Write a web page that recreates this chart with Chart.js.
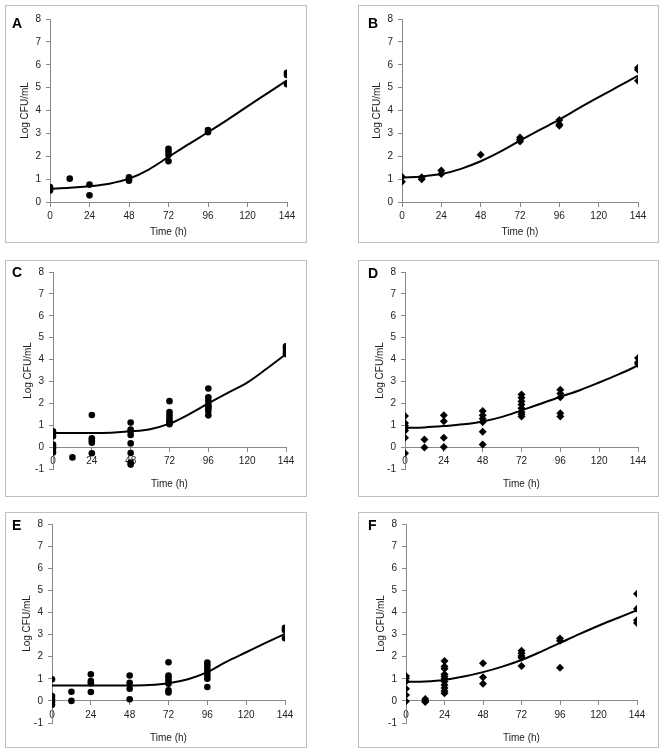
<!DOCTYPE html>
<html>
<head>
<meta charset="utf-8">
<script src="https://cdn.jsdelivr.net/npm/chart.js@4.4.1/dist/chart.umd.min.js"></script>
<style>
  body { margin: 0; background: #fff; width: 666px; height: 753px; position: relative; overflow: hidden; font-family: "Liberation Sans", Arial, sans-serif; }
  .panel { position: absolute; border: 1px solid #bfbfbf; box-sizing: border-box; background: #fff; }
  .panel canvas { position: absolute; left: 0; top: 0; }
  .tag { position: absolute; font-size: 14px; font-weight: bold; line-height: 1; color: #000; }
</style>
</head>
<body>
<script>
// sampling times of the fitted curves (h)
const curveTimes = [0, 12, 24, 36, 48, 60, 72, 84, 96, 108, 120, 132, 144];
// sampling times of the observations (h)
const obsTimes = [0, 12, 24, 48, 72, 96, 144];

// fitted curves, log CFU/mL
const curveA = [0.58, 0.62, 0.69, 0.8, 1.02, 1.42, 1.97, 2.52, 3.05, 3.6, 4.18, 4.75, 5.32];
const curveB = [1.07, 1.12, 1.22, 1.45, 1.78, 2.2, 2.68, 3.15, 3.6, 4.1, 4.58, 5.05, 5.52];
const curveC = [0.64, 0.64, 0.64, 0.66, 0.72, 0.82, 1.07, 1.5, 2.0, 2.48, 2.95, 3.58, 4.25];
const curveD = [0.88, 0.9, 0.96, 1.04, 1.17, 1.38, 1.68, 1.98, 2.3, 2.6, 2.95, 3.32, 3.73];
const curveE = [0.7, 0.7, 0.7, 0.7, 0.7, 0.72, 0.8, 0.98, 1.3, 1.78, 2.2, 2.62, 3.03];
const curveF = [0.86, 0.88, 0.95, 1.1, 1.3, 1.55, 1.85, 2.22, 2.62, 3.02, 3.4, 3.75, 4.1];

// observations, one list per entry of obsTimes
const obsA = [[0.65, 0.5], [1.02], [0.76, 0.29], [1.08, 1.0, 0.93], [2.33, 2.2, 2.05, 1.78], [3.15, 3.05], [5.65, 5.55, 5.15]];
const obsB = [[1.1, 0.88], [1.08, 1.0], [1.38, 1.22], [2.07], [2.82, 2.72, 2.65], [3.58, 3.4, 3.33], [5.87, 5.78, 5.3]];
const obsC = [[0.72, 0.5, 0.12, 0.02, -0.08, -0.25], [-0.47], [1.47, 0.4, 0.3, 0.2, -0.28],
              [1.12, 0.8, 0.72, 0.55, 0.17, -0.27, -0.7, -0.8], [2.1, 1.6, 1.45, 1.3, 1.2, 1.12, 1.05],
              [2.68, 2.28, 2.12, 1.95, 1.85, 1.78, 1.65, 1.45], [4.6, 4.5, 4.35, 4.25]];
const obsD = [[1.42, 1.1, 0.98, 0.85, 0.75, 0.43, -0.28], [0.35, -0.02], [1.45, 1.18, 0.43, 0.0],
              [1.65, 1.45, 1.3, 1.15, 0.7, 0.12], [2.4, 2.25, 2.1, 1.95, 1.78, 1.6, 1.5, 1.4],
              [2.62, 2.45, 2.28, 1.55, 1.4], [4.07, 3.88, 3.8]];
const obsE = [[0.98, 0.22, 0.08, -0.05, -0.18], [0.41, 0.0], [1.2, 0.9, 0.8, 0.4], [1.15, 0.82, 0.55, 0.07],
              [1.75, 1.15, 1.05, 0.92, 0.78, 0.48, 0.38], [1.73, 1.6, 1.45, 1.3, 1.15, 1.0, 0.63], [3.3, 3.2, 2.83]];
const obsF = [[1.12, 1.02, 0.88, 0.55, 0.27, -0.02], [0.08, 0.0, -0.05],
              [1.8, 1.55, 1.45, 1.2, 1.1, 1.0, 0.88, 0.72, 0.58, 0.45, 0.35], [1.7, 1.07, 0.78],
              [2.27, 2.15, 2.03, 1.95, 1.58], [2.82, 2.72, 1.5], [4.84, 4.17, 3.65, 3.52]];

const xTitle = 'Time (h)';
const yTitle = 'Log CFU/mL';

// page layout: frame box and plot area (x0, y0, x1, y1)
const panels = [
  { tag: 'A', frame: [5, 5, 302, 238],   plot: [50, 19, 287, 202],   yMin: 0,  marker: 'circle',  curve: curveA, obs: obsA, tagPos: [12, 16] },
  { tag: 'B', frame: [358, 5, 301, 238], plot: [402, 19, 638, 202],  yMin: 0,  marker: 'rectRot', curve: curveB, obs: obsB, tagPos: [368, 16] },
  { tag: 'C', frame: [5, 260, 302, 237], plot: [53, 271, 286, 469],  yMin: -1, marker: 'circle',  curve: curveC, obs: obsC, tagPos: [12, 265] },
  { tag: 'D', frame: [358, 260, 301, 237], plot: [405, 271, 638, 469], yMin: -1, marker: 'rectRot', curve: curveD, obs: obsD, tagPos: [368, 266] },
  { tag: 'E', frame: [5, 512, 302, 236], plot: [52, 524, 285, 723],  yMin: -1, marker: 'circle',  curve: curveE, obs: obsE, tagPos: [12, 518] },
  { tag: 'F', frame: [358, 512, 301, 236], plot: [406, 524, 637, 723], yMin: -1, marker: 'rectRot', curve: curveF, obs: obsF, tagPos: [368, 518] }
];

const axisColor = '#888';
const textColor = '#222';
const yWidth = 36;

panels.forEach(p => {
  const [fx, fy, fw, fh] = p.frame;
  const box = document.createElement('div');
  box.className = 'panel';
  box.style.left = fx + 'px'; box.style.top = fy + 'px';
  box.style.width = fw + 'px'; box.style.height = fh + 'px';
  const cw = fw - 2, ch = fh - 2;
  const cv = document.createElement('canvas');
  cv.width = cw; cv.height = ch;
  box.appendChild(cv);
  document.body.appendChild(box);

  const tag = document.createElement('div');
  tag.className = 'tag';
  tag.textContent = p.tag;
  tag.style.left = p.tagPos[0] + 'px'; tag.style.top = p.tagPos[1] + 'px';
  document.body.appendChild(tag);

  const ox = fx + 1, oy = fy + 1;
  const [px0, py0, px1, py1] = p.plot;

  const points = [];
  obsTimes.forEach((t, i) => p.obs[i].forEach(v => points.push({ x: t, y: v })));

  new Chart(cv, {
    type: 'scatter',
    data: {
      datasets: [
        {
          data: curveTimes.map((t, i) => ({ x: t, y: p.curve[i] })),
          showLine: true,
          borderColor: '#000',
          borderWidth: 2,
          pointRadius: 0,
          cubicInterpolationMode: 'monotone'
        },
        {
          data: points,
          pointStyle: p.marker,
          pointRadius: p.marker === 'circle' ? 3.3 : 4,
          backgroundColor: '#000',
          borderColor: '#000',
          borderWidth: 0
        }
      ]
    },
    options: {
      responsive: false,
      animation: false,
      events: [],
      layout: {
        padding: { left: px0 - ox - yWidth, top: py0 - oy, right: ox + cw - px1, bottom: oy + ch - py1 }
      },
      plugins: { legend: { display: false }, tooltip: { enabled: false } },
      scales: {
        x: {
          type: 'linear',
          min: 0, max: 144,
          position: { y: 0 },
          ticks: { stepSize: 24, color: textColor, padding: 4, font: { size: 10, family: 'Liberation Sans' } },
          grid: { drawOnChartArea: false, drawTicks: true, tickLength: 4, color: axisColor },
          border: { color: axisColor, width: 1 },
          title: {
            display: true, text: xTitle, color: textColor,
            font: { size: 10, family: 'Liberation Sans' },
            padding: { top: p.yMin < 0 ? 7 : 0, bottom: 4 }
          }
        },
        y: {
          min: p.yMin, max: 8,
          afterFit: s => { s.width = yWidth; },
          ticks: { stepSize: 1, color: textColor, padding: 5, font: { size: 10, family: 'Liberation Sans' } },
          grid: { drawOnChartArea: false, drawTicks: true, tickLength: 4, color: axisColor },
          border: { color: axisColor, width: 1 },
          title: {
            display: true, text: yTitle, color: textColor,
            font: { size: 10, family: 'Liberation Sans' },
            padding: { top: 5, bottom: 0 }
          }
        }
      }
    }
  });
});
</script>
</body>
</html>
